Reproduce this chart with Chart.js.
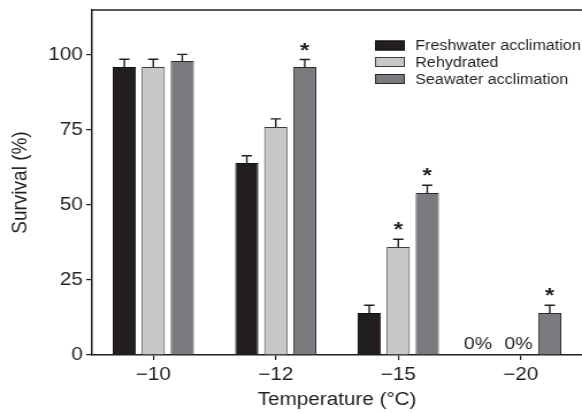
<!DOCTYPE html>
<html>
<head>
<meta charset="utf-8">
<script src="https://cdn.jsdelivr.net/npm/chart.js@4/dist/chart.umd.min.js"></script>
<style>
  html, body { margin: 0; padding: 0; background: #fff; }
  #chart { display: block; }
</style>
</head>
<body>
<!-- drawn at 506px and stretched to 582px, like the reference figure -->
<canvas id="chart" width="506" height="413" style="width:582px;height:413px"></canvas>
<script>
// Data
const temperatures = ['\u221210', '\u221212', '\u221215', '\u221220'];
const yTicks = [0, 25, 50, 75, 100];

const freshwater = [96, 64, 14, 0];
const rehydrated = [96, 76, 36, 0];
const seawater = [98, 96, 54, 14];

const freshwaterErr = [2.6, 2.4, 2.6, 0];
const rehydratedErr = [2.6, 2.7, 2.6, 0];
const seawaterErr = [2.2, 2.5, 2.6, 2.6];

// significance marks (*) and "0%" notes
const freshwaterStar = [false, false, false, false];
const rehydratedStar = [false, false, true, false];
const seawaterStar = [false, true, true, true];
const zeroNote = '0%';

const ink = '#231f20';
const fontFamily = '"Liberation Sans", Arial, Helvetica, sans-serif';

// error bars, asterisks, 0% labels, top frame line and the legend box
const extrasPlugin = {
    id: 'extras',
    afterDatasetsDraw(chart) {
        const ctx = chart.ctx;
        const yScale = chart.scales.y;
        const area = chart.chartArea;
        const noteShift = [-12, -2, 0]; // the two 0% notes sit a bit left of their bars

        ctx.save();
        // top frame line
        ctx.strokeStyle = ink;
        ctx.lineWidth = 1.5;
        ctx.beginPath();
        ctx.moveTo(area.left - 0.75, area.top);
        ctx.lineTo(area.right, area.top);
        ctx.stroke();

        chart.data.datasets.forEach((ds, di) => {
            const meta = chart.getDatasetMeta(di);
            meta.data.forEach((bar, i) => {
                const value = ds.data[i];
                const err = ds.errors[i];
                const x = bar.x;
                if (value === 0) {
                    ctx.fillStyle = ink;
                    ctx.font = '17px ' + fontFamily;
                    ctx.textAlign = 'center';
                    ctx.textBaseline = 'alphabetic';
                    ctx.fillText(zeroNote, x + noteShift[di], yScale.getPixelForValue(0) - 6);
                    return;
                }
                const yTop = yScale.getPixelForValue(value);
                const yErr = yScale.getPixelForValue(value + err);
                ctx.strokeStyle = ink;
                ctx.lineWidth = 1.4;
                ctx.beginPath();
                ctx.moveTo(x, yTop);
                ctx.lineTo(x, yErr);
                ctx.moveTo(x - 4.5, yErr);
                ctx.lineTo(x + 4.5, yErr);
                ctx.stroke();

                if (ds.stars[i]) {
                    ctx.fillStyle = ink;
                    ctx.font = 'bold 21px ' + fontFamily;
                    ctx.textAlign = 'center';
                    ctx.textBaseline = 'alphabetic';
                    ctx.fillText('*', x, yErr - 3);
                }
            });
        });

        // legend
        const boxX = 326, boxW = 26, boxH = 10, textX = 361;
        const rowY = [45.5, 62, 79];
        ctx.font = '14px ' + fontFamily;
        ctx.textAlign = 'left';
        ctx.textBaseline = 'middle';
        chart.data.datasets.forEach((ds, di) => {
            const cy = rowY[di];
            ctx.fillStyle = ds.backgroundColor;
            ctx.fillRect(boxX, cy - boxH / 2, boxW, boxH);
            ctx.strokeStyle = ds.borderColor;
            ctx.lineWidth = 1;
            ctx.strokeRect(boxX + 0.5, cy - boxH / 2 + 0.5, boxW - 1, boxH - 1);
            ctx.fillStyle = ink;
            ctx.fillText(ds.label, textX, cy + 1);
        });
        ctx.restore();
    }
};

const ctx = document.getElementById('chart').getContext('2d');

new Chart(ctx, {
    type: 'bar',
    data: {
        labels: temperatures,
        datasets: [
            {
                label: 'Freshwater acclimation',
                data: freshwater,
                errors: freshwaterErr,
                stars: freshwaterStar,
                backgroundColor: '#231f20',
                borderColor: '#111111',
                borderWidth: 1,
                categoryPercentage: 0.71,
                barPercentage: 0.8
            },
            {
                label: 'Rehydrated',
                data: rehydrated,
                errors: rehydratedErr,
                stars: rehydratedStar,
                backgroundColor: '#c7c8ca',
                borderColor: '#3c3c3c',
                borderWidth: 1,
                categoryPercentage: 0.71,
                barPercentage: 0.8
            },
            {
                label: 'Seawater acclimation',
                data: seawater,
                errors: seawaterErr,
                stars: seawaterStar,
                backgroundColor: '#7a7b7e',
                borderColor: '#2a2a2a',
                borderWidth: 1,
                categoryPercentage: 0.71,
                barPercentage: 0.8
            }
        ]
    },
    options: {
        responsive: false,
        maintainAspectRatio: false,
        animation: false,
        layout: {
            padding: { left: 0, right: 0, top: 10, bottom: 0 }
        },
        plugins: {
            legend: { display: false },
            tooltip: { enabled: false }
        },
        scales: {
            x: {
                afterFit: (scale) => { scale.height = 58; },
                grid: {
                    offset: false,
                    drawOnChartArea: false,
                    drawTicks: true,
                    tickLength: 5,
                    color: ink,
                    lineWidth: 1.2
                },
                border: { display: true, color: ink, width: 1.5 },
                ticks: {
                    color: ink,
                    padding: 4,
                    font: { family: fontFamily, size: 18 }
                },
                title: {
                    display: true,
                    text: 'Temperature (\u00B0C)',
                    color: ink,
                    font: { family: fontFamily, size: 18 },
                    padding: { top: 0, bottom: 2 }
                }
            },
            y: {
                min: 0,
                max: 115,
                afterFit: (scale) => {
                    scale.width = 80;
                    scale.paddingTop = 0;     // let the frame start right at the layout padding
                    scale.paddingBottom = 0;
                },
                afterBuildTicks: (scale) => {
                    scale.ticks = yTicks.map(v => ({ value: v }));
                },
                grid: {
                    drawOnChartArea: false,
                    drawTicks: true,
                    tickLength: 5,
                    color: ink,
                    lineWidth: 1.2
                },
                border: { display: true, color: ink, width: 1.5 },
                ticks: {
                    color: ink,
                    padding: 3,
                    font: { family: fontFamily, size: 18 }
                },
                title: {
                    display: true,
                    text: 'Survival (%)',
                    color: ink,
                    font: { family: fontFamily, size: 19 },
                    padding: { top: 6, bottom: 0 }
                }
            }
        }
    },
    plugins: [extrasPlugin]
});
</script>
</body>
</html>
